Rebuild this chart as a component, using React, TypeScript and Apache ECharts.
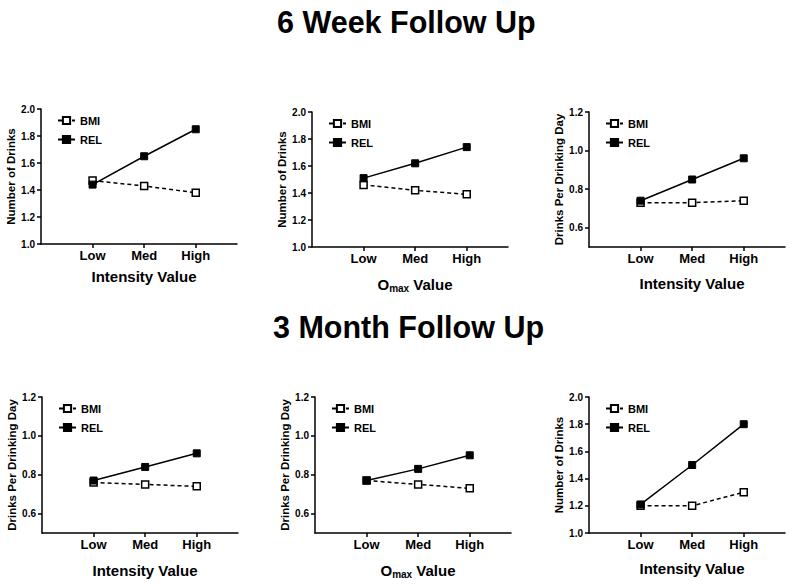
import React, { useEffect, useRef } from "react";
import * as echarts from "echarts";

const categories = ["Low", "Med", "High"];
const seriesNames = ["BMI", "REL"];
const headings = ["6 Week Follow Up", "3 Month Follow Up"];

// 6 week follow up
const wk6IntensityDrinksBMI = [1.47, 1.43, 1.38];
const wk6IntensityDrinksREL = [1.44, 1.65, 1.85];
const wk6OmaxDrinksBMI = [1.46, 1.42, 1.39];
const wk6OmaxDrinksREL = [1.51, 1.62, 1.74];
const wk6IntensityDpddBMI = [0.73, 0.73, 0.74];
const wk6IntensityDpddREL = [0.74, 0.85, 0.96];
// 3 month follow up
const mo3IntensityDpddBMI = [0.76, 0.75, 0.74];
const mo3IntensityDpddREL = [0.77, 0.84, 0.91];
const mo3OmaxDpddBMI = [0.77, 0.75, 0.73];
const mo3OmaxDpddREL = [0.77, 0.83, 0.9];
const mo3IntensityDrinksBMI = [1.2, 1.2, 1.3];
const mo3IntensityDrinksREL = [1.21, 1.5, 1.8];

const drinksTicks = [1.0, 1.2, 1.4, 1.6, 1.8, 2.0];
const dpddTicks = [0.6, 0.8, 1.0, 1.2];

const drinksName = "Number of Drinks";
const dpddName = "Drinks Per Drinking Day";
const intensityName = "Intensity Value";
const omaxName = "{o|O}{s|max}{o| Value}";

const FONT = "'Liberation Sans', Arial, Helvetica, sans-serif";

type Panel = {
  left: number;
  top: number;
  height: number;
  yName: string;
  yMin: number;
  yMax: number;
  yTicks: number[];
  xName: string;
  xGap: number;
  bmi: number[];
  rel: number[];
};

const panels: Panel[] = [
  { left: 41, top: 109, height: 135, yName: drinksName, yMin: 1, yMax: 2, yTicks: drinksTicks, xName: intensityName, xGap: 25, bmi: wk6IntensityDrinksBMI, rel: wk6IntensityDrinksREL },
  { left: 312, top: 112, height: 135, yName: drinksName, yMin: 1, yMax: 2, yTicks: drinksTicks, xName: omaxName, xGap: 28, bmi: wk6OmaxDrinksBMI, rel: wk6OmaxDrinksREL },
  { left: 589, top: 112, height: 135, yName: dpddName, yMin: 0.5, yMax: 1.2, yTicks: dpddTicks, xName: intensityName, xGap: 29, bmi: wk6IntensityDpddBMI, rel: wk6IntensityDpddREL },
  { left: 42, top: 397, height: 136, yName: dpddName, yMin: 0.5, yMax: 1.2, yTicks: dpddTicks, xName: intensityName, xGap: 30, bmi: mo3IntensityDpddBMI, rel: mo3IntensityDpddREL },
  { left: 315, top: 397, height: 136, yName: dpddName, yMin: 0.5, yMax: 1.2, yTicks: dpddTicks, xName: omaxName, xGap: 28, bmi: mo3OmaxDpddBMI, rel: mo3OmaxDpddREL },
  { left: 589, top: 397, height: 136, yName: drinksName, yMin: 1, yMax: 2, yTicks: drinksTicks, xName: intensityName, xGap: 28, bmi: mo3IntensityDrinksBMI, rel: mo3IntensityDrinksREL },
];

const xPositions = categories.map((_, i) => i + 1);

export default function App() {
  const ref = useRef<HTMLDivElement>(null);

  useEffect(() => {
    if (!ref.current) return;
    const chart = echarts.init(ref.current, undefined, { renderer: "svg" });

    const axisLineStyle = { color: "#000", width: 1.5 };
    const titleStyle = { fontFamily: FONT, fontSize: 30.5, fontWeight: "bold", color: "#000" };

    const option: any = {
      animation: false,
      backgroundColor: "#fff",
      textStyle: { fontFamily: FONT, color: "#000" },
      title: [
        { text: headings[0], left: 272, top: 1, textStyle: titleStyle },
        { text: headings[1], left: 268, top: 306, textStyle: titleStyle },
      ],
      grid: panels.map((p) => ({
        left: p.left,
        top: p.top,
        width: 196,
        height: p.height,
        outerBoundsMode: "none",
        containLabel: false,
      })),
      legend: panels.map((p) => ({
        data: seriesNames,
        orient: "vertical",
        left: p.left + 11,
        top: p.top + 1,
        itemWidth: 17,
        itemHeight: 9,
        itemGap: 8,
        selectedMode: false,
        textStyle: { fontFamily: FONT, fontSize: 11, fontWeight: "bold", color: "#000" },
      })),
      xAxis: panels.map((p, i) => ({
        type: "value",
        gridIndex: i,
        min: 0,
        max: 3.8,
        name: p.xName,
        nameLocation: "middle",
        nameGap: p.xGap,
        nameTextStyle: {
          fontFamily: FONT,
          fontSize: 15,
          fontWeight: "bold",
          color: "#000",
          padding: [0, 0, 0, 10],
          rich: {
            o: { fontFamily: FONT, fontSize: 15, fontWeight: "bold", color: "#000" },
            s: { fontFamily: FONT, fontSize: 10, fontWeight: "bold", color: "#000", padding: [8, 0, 0, 0] },
          },
        },
        axisLine: { show: true, onZero: false, lineStyle: axisLineStyle },
        axisTick: { show: true, length: 4, customValues: xPositions, lineStyle: axisLineStyle },
        axisLabel: {
          show: true,
          customValues: xPositions,
          margin: 5,
          fontFamily: FONT,
          fontSize: 13,
          fontWeight: "bold",
          color: "#000",
          formatter: (v: number) => categories[Math.round(v) - 1] ?? "",
        },
        splitLine: { show: false },
      })),
      yAxis: panels.map((p, i) => ({
        type: "value",
        gridIndex: i,
        min: p.yMin,
        max: p.yMax,
        name: p.yName,
        nameLocation: "middle",
        nameGap: 23,
        nameTextStyle: { fontFamily: FONT, fontSize: 11.5, fontWeight: "bold", color: "#000" },
        axisLine: { show: true, onZero: false, lineStyle: axisLineStyle },
        axisTick: { show: true, length: 4, customValues: p.yTicks, lineStyle: axisLineStyle },
        axisLabel: {
          show: true,
          customValues: p.yTicks,
          margin: 6,
          fontFamily: FONT,
          fontSize: 10,
          fontWeight: "bold",
          color: "#000",
          formatter: (v: number) => v.toFixed(1),
        },
        splitLine: { show: false },
      })),
      series: panels.flatMap((p, i) => [
        {
          type: "line",
          name: seriesNames[0],
          xAxisIndex: i,
          yAxisIndex: i,
          data: categories.map((_, k) => [xPositions[k], p.bmi[k]]),
          symbol: "rect",
          symbolSize: 7,
          lineStyle: { color: "#000", width: 1.5, type: [4, 3] },
          itemStyle: { color: "#fff", borderColor: "#000", borderWidth: 1.5 },
          emphasis: { disabled: true },
          z: 2,
        },
        {
          type: "line",
          name: seriesNames[1],
          xAxisIndex: i,
          yAxisIndex: i,
          data: categories.map((_, k) => [xPositions[k], p.rel[k]]),
          symbol: "rect",
          symbolSize: 7,
          lineStyle: { color: "#000", width: 1.5, type: "solid" },
          itemStyle: { color: "#000", borderColor: "#000", borderWidth: 1 },
          emphasis: { disabled: true },
          z: 3,
        },
      ]),
    };

    chart.setOption(option);
    return () => chart.dispose();
  }, []);

  return (
    <div
      ref={ref}
      style={{ position: "absolute", left: 0, top: 0, width: 800, height: 584, background: "#fff" }}
    />
  );
}
